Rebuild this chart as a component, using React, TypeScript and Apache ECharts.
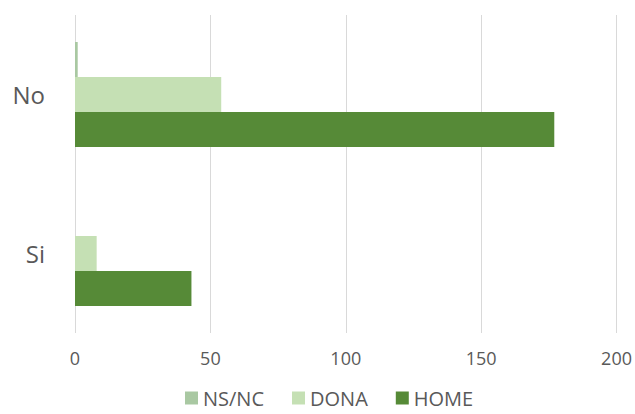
import React, { useEffect, useRef } from "react";
import * as echarts from "echarts";

const categories = ["Si", "No"];
const seriesNames = ["NS/NC", "DONA", "HOME"];
const nsncValues = [0, 1];
const donaValues = [8, 54];
const homeValues = [43, 177];
const xTicks = [0, 50, 100, 150, 200];

const colors: Record<string, string> = {
  "NS/NC": "#a9c8a2",
  DONA: "#c5e0b4",
  HOME: "#568a37",
};

export default function App() {
  const ref = useRef<HTMLDivElement>(null);
  useEffect(() => {
    if (!ref.current) return;
    const chart = echarts.init(ref.current, null, { renderer: "svg" });
    const font = "'Open Sans', 'Noto Sans', sans-serif";
    const mk = (name: string, data: number[]) => ({
      name,
      type: "bar",
      data,
      barWidth: 35,
      barGap: "0%",
      itemStyle: { color: colors[name] },
    });
    chart.setOption({
      animation: false,
      textStyle: { fontFamily: font },
      grid: { left: 75, right: 14, top: 15, bottom: 81 },
      legend: {
        data: seriesNames,
        left: 180,
        top: 383,
        itemWidth: 13,
        itemHeight: 13,
        itemGap: 28,
        icon: "rect",
        textStyle: { color: "#595959", fontSize: 20, fontFamily: font },
      },
      xAxis: {
        type: "value",
        min: xTicks[0],
        max: xTicks[xTicks.length - 1],
        interval: 50,
        axisLine: { show: false },
        axisTick: { show: false },
        splitLine: { show: true, lineStyle: { color: "#d9d9d9", width: 1 } },
        axisLabel: { color: "#595959", fontSize: 18, margin: 16, fontFamily: font },
      },
      yAxis: {
        type: "category",
        data: categories,
        axisLine: { show: false },
        axisTick: { show: false },
        axisLabel: { color: "#595959", fontSize: 24, margin: 30, fontFamily: font },
      },
      series: [mk("NS/NC", nsncValues), mk("DONA", donaValues), mk("HOME", homeValues)],
    });
    return () => chart.dispose();
  }, []);
  return <div ref={ref} style={{ width: 635, height: 414, position: "absolute", left: 0, top: 0 }} />;
}
